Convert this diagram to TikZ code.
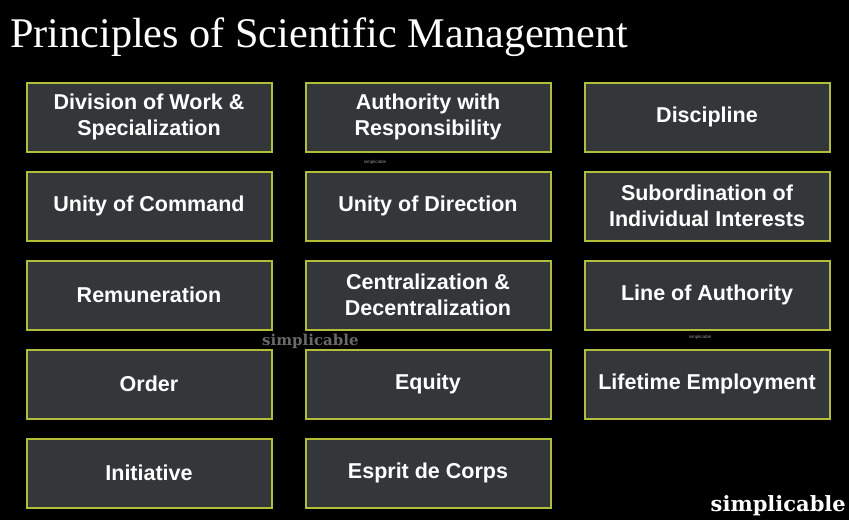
\documentclass[tikz,border=0pt]{standalone}
\usepackage{fontspec}
\setmainfont{Liberation Serif}
\setsansfont{Liberation Sans}
\newfontfamily\slabfont{DejaVu Serif}
\usepackage{tikz}
\usetikzlibrary{positioning}
\definecolor{boxfill}{RGB}{52,55,58}
\definecolor{boxedge}{RGB}{178,190,58}
\definecolor{markgray}{RGB}{105,105,105}

\tikzset{
  principle/.style={draw=boxedge, fill=boxfill, line width=2pt,
    minimum width=245pt, minimum height=69pt, align=center, text=white,
    font=\sffamily\bfseries\fontsize{21.5}{26}\selectfont},
  brand/.style={inner sep=0pt}
}

\begin{document}
\begin{tikzpicture}[x=1pt, y=-1pt]
  \fill[black] (0,0) rectangle (849,520);

  % heading
  \node[anchor=base west, inner sep=0pt, text=white] (title) at (10,47)
    {\resizebox{618pt}{!}{\fontsize{44}{44}\selectfont Principles of Scientific Management}};

  % the grid of principles, column by column
  \foreach \c/\r/\name/\txt in {
      0/0/divwork/{Division of Work \&\\Specialization},
      0/1/unicmd/{Unity of Command},
      0/2/pay/{Remuneration},
      0/3/order/{Order},
      0/4/init/{Initiative},
      1/0/auth/{Authority with\\Responsibility},
      1/1/unidir/{Unity of Direction},
      1/2/central/{Centralization \&\\Decentralization},
      1/3/equity/{Equity},
      1/4/esprit/{Esprit de Corps},
      2/0/disc/{Discipline},
      2/1/subord/{Subordination of\\Individual Interests},
      2/2/line/{Line of Authority},
      2/3/tenure/{Lifetime Employment}} {
    \node[principle] (\name) at (149+279*\c, 117+89*\r) {\txt};
  }

  % watermarks
  \node[brand, text=markgray!70, font=\sffamily\fontsize{4.5}{5}\selectfont] (wm1) at (375,162) {simplicable};
  \node[brand, text=markgray, anchor=base west, font=\slabfont\bfseries\fontsize{15}{15}\selectfont] (wm2) at (262,345) {simplicable};
  \node[brand, text=markgray!70, font=\sffamily\fontsize{4.5}{5}\selectfont] (wm3) at (700,337) {simplicable};
  \node[brand, text=white, anchor=base east, font=\slabfont\bfseries\fontsize{21}{21}\selectfont] (wm4) at (846,511) {simplicable};
\end{tikzpicture}
\end{document}
